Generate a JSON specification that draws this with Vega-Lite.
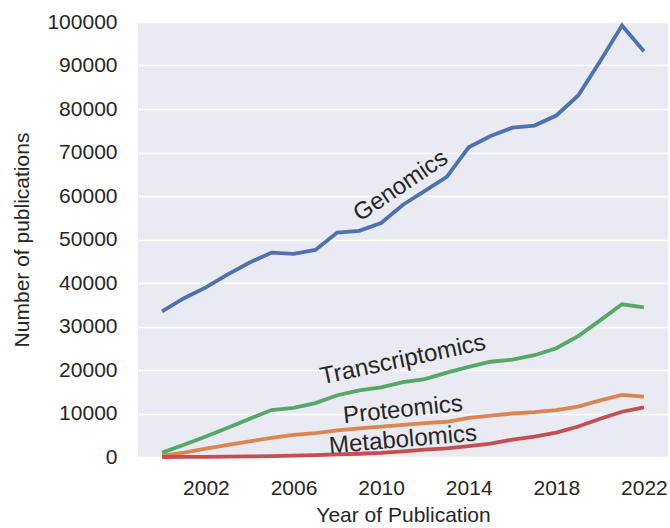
{
  "$schema": "https://vega.github.io/schema/vega-lite/v6.json",
  "autosize": "none",
  "padding": {"left": 138, "top": 22, "right": 2, "bottom": 71},
  "width": 530,
  "height": 435,
  "background": "white",
  "config": {
    "font": "Liberation Sans",
    "view": {"fill": "#EAEAF2", "stroke": null},
    "axis": {
      "grid": true, "gridColor": "white", "gridWidth": 1.3,
      "ticks": false, "domain": false,
      "labelFont": "Liberation Sans", "labelFontSize": 21, "labelColor": "#262626",
      "titleFont": "Liberation Sans", "titleFontSize": 21, "titleColor": "#262626", "titleFontWeight": "normal"
    }
  },
  "datasets": {
    "pubs": [
      {"year": 2000, "field": "Genomics", "count": 33500},
      {"year": 2001, "field": "Genomics", "count": 36500},
      {"year": 2002, "field": "Genomics", "count": 39000},
      {"year": 2003, "field": "Genomics", "count": 42000},
      {"year": 2004, "field": "Genomics", "count": 44700},
      {"year": 2005, "field": "Genomics", "count": 47000},
      {"year": 2006, "field": "Genomics", "count": 46700},
      {"year": 2007, "field": "Genomics", "count": 47600},
      {"year": 2008, "field": "Genomics", "count": 51600},
      {"year": 2009, "field": "Genomics", "count": 52000},
      {"year": 2010, "field": "Genomics", "count": 53800},
      {"year": 2011, "field": "Genomics", "count": 58000},
      {"year": 2012, "field": "Genomics", "count": 61200},
      {"year": 2013, "field": "Genomics", "count": 64400},
      {"year": 2014, "field": "Genomics", "count": 71200},
      {"year": 2015, "field": "Genomics", "count": 73800},
      {"year": 2016, "field": "Genomics", "count": 75700},
      {"year": 2017, "field": "Genomics", "count": 76200},
      {"year": 2018, "field": "Genomics", "count": 78500},
      {"year": 2019, "field": "Genomics", "count": 83100},
      {"year": 2020, "field": "Genomics", "count": 91000},
      {"year": 2021, "field": "Genomics", "count": 99200},
      {"year": 2022, "field": "Genomics", "count": 93300},
      {"year": 2000, "field": "Transcriptomics", "count": 1000},
      {"year": 2001, "field": "Transcriptomics", "count": 2800},
      {"year": 2002, "field": "Transcriptomics", "count": 4700},
      {"year": 2003, "field": "Transcriptomics", "count": 6700},
      {"year": 2004, "field": "Transcriptomics", "count": 8800},
      {"year": 2005, "field": "Transcriptomics", "count": 10800},
      {"year": 2006, "field": "Transcriptomics", "count": 11300},
      {"year": 2007, "field": "Transcriptomics", "count": 12400},
      {"year": 2008, "field": "Transcriptomics", "count": 14200},
      {"year": 2009, "field": "Transcriptomics", "count": 15300},
      {"year": 2010, "field": "Transcriptomics", "count": 16000},
      {"year": 2011, "field": "Transcriptomics", "count": 17200},
      {"year": 2012, "field": "Transcriptomics", "count": 17900},
      {"year": 2013, "field": "Transcriptomics", "count": 19400},
      {"year": 2014, "field": "Transcriptomics", "count": 20700},
      {"year": 2015, "field": "Transcriptomics", "count": 21900},
      {"year": 2016, "field": "Transcriptomics", "count": 22400},
      {"year": 2017, "field": "Transcriptomics", "count": 23400},
      {"year": 2018, "field": "Transcriptomics", "count": 25000},
      {"year": 2019, "field": "Transcriptomics", "count": 27800},
      {"year": 2020, "field": "Transcriptomics", "count": 31400},
      {"year": 2021, "field": "Transcriptomics", "count": 35100},
      {"year": 2022, "field": "Transcriptomics", "count": 34400},
      {"year": 2000, "field": "Proteomics", "count": 300},
      {"year": 2001, "field": "Proteomics", "count": 1000},
      {"year": 2002, "field": "Proteomics", "count": 1900},
      {"year": 2003, "field": "Proteomics", "count": 2800},
      {"year": 2004, "field": "Proteomics", "count": 3600},
      {"year": 2005, "field": "Proteomics", "count": 4400},
      {"year": 2006, "field": "Proteomics", "count": 5100},
      {"year": 2007, "field": "Proteomics", "count": 5500},
      {"year": 2008, "field": "Proteomics", "count": 6100},
      {"year": 2009, "field": "Proteomics", "count": 6600},
      {"year": 2010, "field": "Proteomics", "count": 7000},
      {"year": 2011, "field": "Proteomics", "count": 7400},
      {"year": 2012, "field": "Proteomics", "count": 7800},
      {"year": 2013, "field": "Proteomics", "count": 8100},
      {"year": 2014, "field": "Proteomics", "count": 9000},
      {"year": 2015, "field": "Proteomics", "count": 9500},
      {"year": 2016, "field": "Proteomics", "count": 10000},
      {"year": 2017, "field": "Proteomics", "count": 10300},
      {"year": 2018, "field": "Proteomics", "count": 10800},
      {"year": 2019, "field": "Proteomics", "count": 11600},
      {"year": 2020, "field": "Proteomics", "count": 13000},
      {"year": 2021, "field": "Proteomics", "count": 14300},
      {"year": 2022, "field": "Proteomics", "count": 13900},
      {"year": 2000, "field": "Metabolomics", "count": 0},
      {"year": 2001, "field": "Metabolomics", "count": 20},
      {"year": 2002, "field": "Metabolomics", "count": 50},
      {"year": 2003, "field": "Metabolomics", "count": 100},
      {"year": 2004, "field": "Metabolomics", "count": 150},
      {"year": 2005, "field": "Metabolomics", "count": 200},
      {"year": 2006, "field": "Metabolomics", "count": 300},
      {"year": 2007, "field": "Metabolomics", "count": 450},
      {"year": 2008, "field": "Metabolomics", "count": 600},
      {"year": 2009, "field": "Metabolomics", "count": 750},
      {"year": 2010, "field": "Metabolomics", "count": 950},
      {"year": 2011, "field": "Metabolomics", "count": 1300},
      {"year": 2012, "field": "Metabolomics", "count": 1700},
      {"year": 2013, "field": "Metabolomics", "count": 2000},
      {"year": 2014, "field": "Metabolomics", "count": 2500},
      {"year": 2015, "field": "Metabolomics", "count": 3100},
      {"year": 2016, "field": "Metabolomics", "count": 4000},
      {"year": 2017, "field": "Metabolomics", "count": 4700},
      {"year": 2018, "field": "Metabolomics", "count": 5600},
      {"year": 2019, "field": "Metabolomics", "count": 7000},
      {"year": 2020, "field": "Metabolomics", "count": 8800},
      {"year": 2021, "field": "Metabolomics", "count": 10400},
      {"year": 2022, "field": "Metabolomics", "count": 11400}
    ],
    "labels": [
      {"field": "Genomics", "year": 2010.9, "count": 62300},
      {"field": "Transcriptomics", "year": 2011.0, "count": 22300},
      {"field": "Proteomics", "year": 2011.0, "count": 10800},
      {"field": "Metabolomics", "year": 2011.0, "count": 3900}
    ]
  },
  "encoding": {
    "x": {
      "field": "year", "type": "quantitative",
      "scale": {"domain": [1998.9, 2023.1], "nice": false, "zero": false},
      "axis": {"values": [2002, 2006, 2010, 2014, 2018, 2022], "format": "d", "grid": false, "labelPadding": 20, "title": "Year of Publication", "titlePadding": 6, "labelFlush": false}
    },
    "y": {
      "field": "count", "type": "quantitative",
      "scale": {"domain": [0, 100000], "nice": false},
      "axis": {"values": [0, 10000, 20000, 30000, 40000, 50000, 60000, 70000, 80000, 90000, 100000], "format": "d", "labelPadding": 21, "title": "Number of publications", "titlePadding": 14, "labelFlush": false}
    }
  },
  "layer": [
    {
      "data": {"name": "pubs"},
      "mark": {"type": "line", "strokeWidth": 3.8, "strokeCap": "butt"},
      "encoding": {
        "color": {
          "field": "field", "type": "nominal",
          "scale": {"domain": ["Genomics", "Transcriptomics", "Proteomics", "Metabolomics"], "range": ["#4C72B0", "#55A868", "#DD8452", "#C44E52"]},
          "legend": null
        }
      }
    },
    {
      "data": {"name": "labels"},
      "transform": [{"filter": "datum.field === 'Genomics'"}],
      "mark": {"type": "text", "angle": -34, "fontSize": 24, "color": "#262626", "align": "center", "baseline": "middle"},
      "encoding": {"text": {"field": "field"}}
    },
    {
      "data": {"name": "labels"},
      "transform": [{"filter": "datum.field === 'Transcriptomics'"}],
      "mark": {"type": "text", "angle": -12, "fontSize": 24, "color": "#262626", "align": "center", "baseline": "middle"},
      "encoding": {"text": {"field": "field"}}
    },
    {
      "data": {"name": "labels"},
      "transform": [{"filter": "datum.field === 'Proteomics'"}],
      "mark": {"type": "text", "angle": -6, "fontSize": 24, "color": "#262626", "align": "center", "baseline": "middle"},
      "encoding": {"text": {"field": "field"}}
    },
    {
      "data": {"name": "labels"},
      "transform": [{"filter": "datum.field === 'Metabolomics'"}],
      "mark": {"type": "text", "angle": -5, "fontSize": 24, "color": "#262626", "align": "center", "baseline": "middle"},
      "encoding": {"text": {"field": "field"}}
    }
  ]
}
